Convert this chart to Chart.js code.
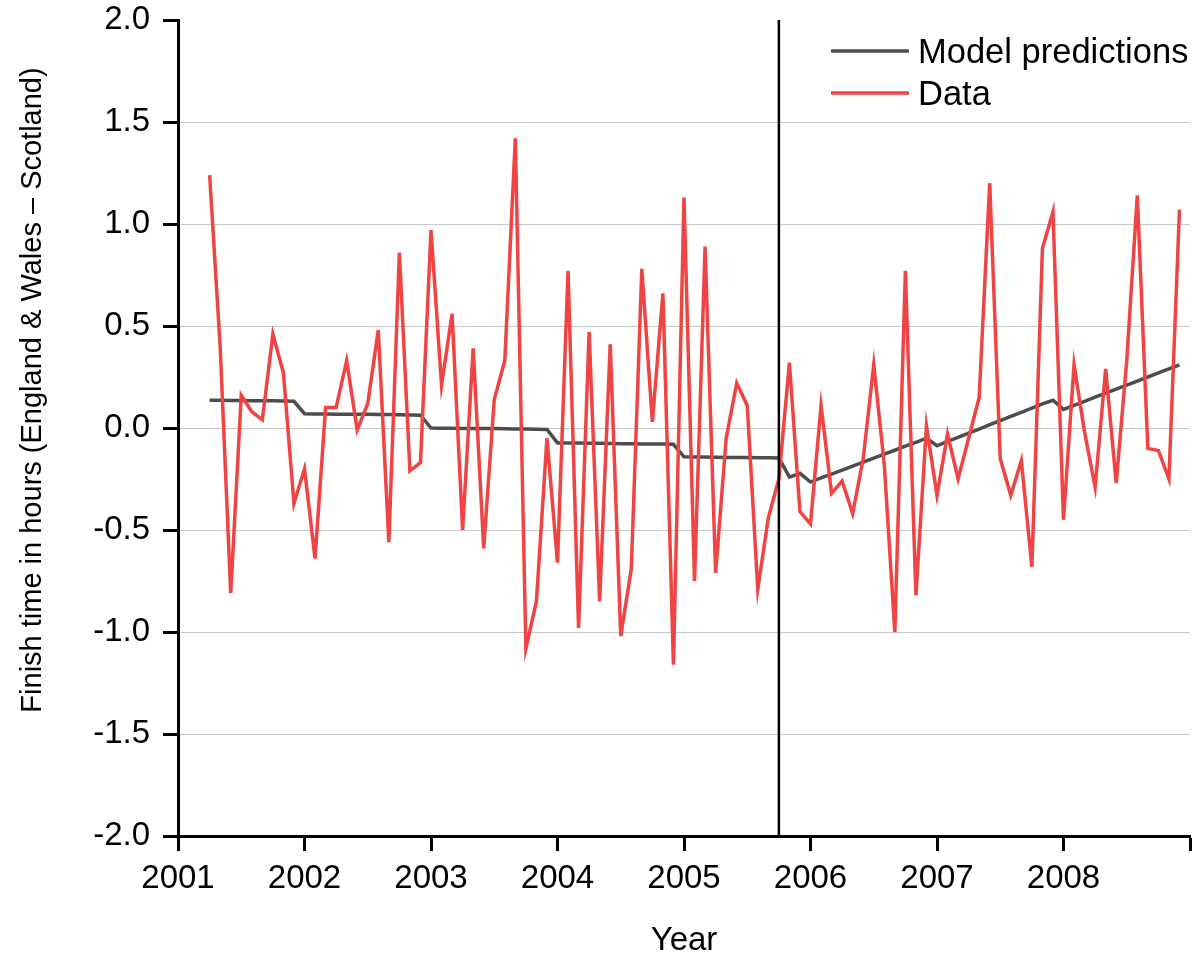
<!DOCTYPE html>
<html>
<head>
<meta charset="utf-8">
<script src="https://cdn.jsdelivr.net/npm/chart.js@4.4.1/dist/chart.umd.min.js"></script>
<style>
    html, body { margin: 0; padding: 0; background: #fff; }
    #wrap { width: 1195px; height: 955px; }
</style>
</head>
<body>
<div id="wrap"><canvas id="finishChart" width="1195" height="955"></canvas></div>
<script>
    // Monthly observations, April 2001 to December 2008
    const months = [
        '2001-04', '2001-05', '2001-06', '2001-07', '2001-08', '2001-09', '2001-10', '2001-11', '2001-12',
        '2002-01', '2002-02', '2002-03', '2002-04', '2002-05', '2002-06', '2002-07', '2002-08', '2002-09', '2002-10', '2002-11', '2002-12',
        '2003-01', '2003-02', '2003-03', '2003-04', '2003-05', '2003-06', '2003-07', '2003-08', '2003-09', '2003-10', '2003-11', '2003-12',
        '2004-01', '2004-02', '2004-03', '2004-04', '2004-05', '2004-06', '2004-07', '2004-08', '2004-09', '2004-10', '2004-11', '2004-12',
        '2005-01', '2005-02', '2005-03', '2005-04', '2005-05', '2005-06', '2005-07', '2005-08', '2005-09', '2005-10', '2005-11', '2005-12',
        '2006-01', '2006-02', '2006-03', '2006-04', '2006-05', '2006-06', '2006-07', '2006-08', '2006-09', '2006-10', '2006-11', '2006-12',
        '2007-01', '2007-02', '2007-03', '2007-04', '2007-05', '2007-06', '2007-07', '2007-08', '2007-09', '2007-10', '2007-11', '2007-12',
        '2008-01', '2008-02', '2008-03', '2008-04', '2008-05', '2008-06', '2008-07', '2008-08', '2008-09', '2008-10', '2008-11', '2008-12'
    ];

    const dataValues = [
        1.24, 0.40, -0.81, 0.16, 0.08, 0.04, 0.46, 0.27, -0.37,
        -0.20, -0.64, 0.10, 0.10, 0.33, -0.01, 0.12, 0.48, -0.56, 0.86, -0.21, -0.17,
        0.97, 0.21, 0.56, -0.50, 0.39, -0.59, 0.14, 0.33, 1.42, -1.08, -0.85, -0.05,
        -0.66, 0.77, -0.98, 0.47, -0.85, 0.41, -1.02, -0.69, 0.78, 0.03, 0.66, -1.16,
        1.13, -0.75, 0.89, -0.71, -0.05, 0.22, 0.11, -0.79, -0.44, -0.25, 0.32, -0.41,
        -0.47, 0.11, -0.32, -0.26, -0.42, -0.15, 0.31, -0.18, -1.00, 0.77, -0.82, 0.01,
        -0.33, -0.03, -0.25, -0.05, 0.15, 1.20, -0.15, -0.33, -0.16, -0.68, 0.88, 1.06,
        -0.45, 0.31, -0.02, -0.29, 0.29, -0.27, 0.33, 1.14, -0.10, -0.11, -0.25, 1.07
    ];

    const modelValues = [
        0.136, 0.136, 0.135, 0.135, 0.134, 0.134, 0.133, 0.132, 0.131,
        0.070, 0.069, 0.069, 0.068, 0.068, 0.067, 0.067, 0.066, 0.066, 0.065, 0.064, 0.063,
        0.000, -0.001, -0.001, -0.002, -0.002, -0.003, -0.003, -0.004, -0.005, -0.005, -0.006, -0.007,
        -0.073, -0.073, -0.074, -0.075, -0.075, -0.076, -0.077, -0.077, -0.078, -0.079, -0.079, -0.080,
        -0.141, -0.142, -0.142, -0.143, -0.144, -0.144, -0.145, -0.146, -0.146, -0.147, -0.241, -0.222,
        -0.265, -0.245, -0.226, -0.206, -0.187, -0.167, -0.148, -0.128, -0.109, -0.089, -0.070, -0.050,
        -0.087, -0.066, -0.046, -0.025, -0.005, 0.016, 0.036, 0.057, 0.077, 0.098, 0.118, 0.136,
        0.091, 0.111, 0.131, 0.151, 0.171, 0.191, 0.210, 0.230, 0.250, 0.270, 0.290, 0.310
    ];

    const changeYear = 2005.75;          // vertical marker
    const yearTicks = [2001, 2002, 2003, 2004, 2005, 2006, 2007, 2008, 2009];
    const yTickLabels = ['-2.0', '-1.5', '-1.0', '-0.5', '0.0', '0.5', '1.0', '1.5', '2.0'];

    const FONT = '"Liberation Sans", Arial, Helvetica, sans-serif';
    const RED = '#f04343';
    const GREY = '#4d4d4d';

    function toYear(label) {
        const parts = label.split('-');
        return Number(parts[0]) + (Number(parts[1]) - 1) / 12;
    }

    const dataPoints = months.map((m, i) => ({ x: toYear(m), y: dataValues[i] }));
    const modelPoints = months.map((m, i) => ({ x: toYear(m), y: modelValues[i] }));

    // Titles and legend drawn by hand so they sit where the original has them
    const decorations = {
        id: 'decorations',
        afterDraw(chart) {
            const ctx = chart.ctx;
            const area = chart.chartArea;
            ctx.save();
            ctx.fillStyle = '#000';

            // y title
            ctx.font = '29px ' + FONT;
            ctx.textAlign = 'center';
            ctx.textBaseline = 'middle';
            ctx.translate(33, 390);
            ctx.rotate(-Math.PI / 2);
            ctx.fillText('Finish time in hours (England & Wales \u2013 Scotland)', 0, 0);
            ctx.setTransform(1, 0, 0, 1, 0, 0);

            // x title
            ctx.font = '33px ' + FONT;
            ctx.textBaseline = 'alphabetic';
            ctx.fillText('Year', (area.left + area.right) / 2, 950);

            // legend
            const items = [['Model predictions', GREY], ['Data', RED]];
            const lx = area.right - 359;
            ctx.font = '34.5px ' + FONT;
            ctx.textAlign = 'left';
            items.forEach((it, i) => {
                const y = 51 + i * 42;
                ctx.strokeStyle = it[1];
                ctx.lineWidth = 3.5;
                ctx.beginPath();
                ctx.moveTo(lx, y);
                ctx.lineTo(lx + 78, y);
                ctx.stroke();
                ctx.fillText(it[0], lx + 87, y + 12);
            });
            ctx.restore();
        }
    };

    new Chart(document.getElementById('finishChart'), {
        type: 'line',
        data: {
            datasets: [
                {
                    label: 'Change',
                    data: [{ x: changeYear, y: -2 }, { x: changeYear, y: 2 }],
                    borderColor: '#000',
                    borderWidth: 2.5,
                    pointRadius: 0,
                    order: 0
                },
                {
                    label: 'Data',
                    data: dataPoints,
                    borderColor: RED,
                    borderWidth: 3.5,
                    pointRadius: 0,
                    tension: 0,
                    order: 1
                },
                {
                    label: 'Model predictions',
                    data: modelPoints,
                    borderColor: GREY,
                    borderWidth: 3.5,
                    pointRadius: 0,
                    tension: 0,
                    order: 2
                }
            ]
        },
        options: {
            responsive: false,
            animation: false,
            devicePixelRatio: 1,
            layout: { padding: { top: 20, right: 5, left: 0, bottom: 0 } },
            plugins: { legend: { display: false }, tooltip: { enabled: false } },
            scales: {
                x: {
                    type: 'linear',
                    min: yearTicks[0],
                    max: yearTicks[yearTicks.length - 1],
                    afterBuildTicks: s => { s.ticks = yearTicks.map(v => ({ value: v })); },
                    ticks: {
                        color: '#000',
                        font: { family: FONT, size: 33 },
                        padding: 8,
                        maxRotation: 0,
                        autoSkip: false,
                        callback: v => (v === 2009 ? '' : String(v))
                    },
                    grid: { drawOnChartArea: false, tickLength: 15, tickWidth: 3, tickColor: '#000' },
                    border: { color: '#000', width: 3 },
                    afterFit: s => { s.height = 119; s.paddingLeft = 0; s.paddingRight = 0; }
                },
                y: {
                    min: -2,
                    max: 2,
                    ticks: {
                        stepSize: 0.5,
                        color: '#000',
                        font: { family: FONT, size: 33 },
                        padding: 13,
                        callback: (v, i) => yTickLabels[i]
                    },
                    grid: {
                        color: c => (c.tick && Math.abs(c.tick.value) === 2 ? 'rgba(0,0,0,0)' : '#c8c8c8'),
                        lineWidth: 1,
                        tickLength: 15,
                        tickWidth: 3,
                        tickColor: '#000'
                    },
                    border: { color: '#000', width: 3 },
                    afterFit: s => { s.width = 178; s.paddingTop = 0; s.paddingBottom = 0; }
                }
            }
        },
        plugins: [decorations]
    });
</script>
</body>
</html>
